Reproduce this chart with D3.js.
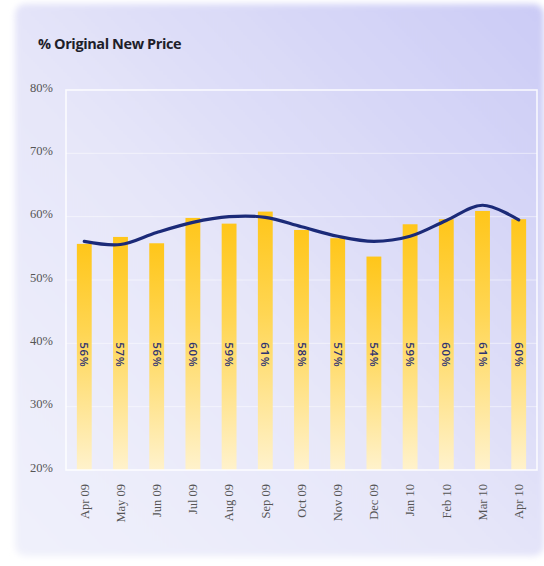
<!DOCTYPE html>
<html><head><meta charset="utf-8">
<script src="https://cdn.jsdelivr.net/npm/d3@7"></script>
<style>html,body{margin:0;padding:0;background:#fff;}svg{display:block;}</style>
</head><body>
<script>
const months = ["Apr 09","May 09","Jun 09","Jul 09","Aug 09","Sep 09","Oct 09","Nov 09","Dec 09","Jan 10","Feb 10","Mar 10","Apr 10"];
const barValues = [55.7,56.8,55.8,59.8,58.9,60.8,57.9,56.6,53.7,58.8,59.6,60.9,59.6];
const barLabels = ["56%","57%","56%","60%","59%","61%","58%","57%","54%","59%","60%","61%","60%"];
const trendValues = [56.1,55.6,57.5,59.1,60.0,59.9,58.4,56.9,56.1,56.9,59.4,61.8,59.5];
const yTicks = [20,30,40,50,60,70,80];

const W=544,H=566;
const svg=d3.select("body").append("svg").attr("width",W).attr("height",H);
const defs=svg.append("defs");
const bg=defs.append("linearGradient").attr("id","bg").attr("x1","0").attr("y1","1").attr("x2","1").attr("y2","0");
bg.append("stop").attr("offset","0").attr("stop-color","#f0f1fb");
bg.append("stop").attr("offset","0.45").attr("stop-color","#e6e6f9");
bg.append("stop").attr("offset","1").attr("stop-color","#cbcbf6");
const bar=defs.append("linearGradient").attr("id","bar").attr("x1","0").attr("y1","0").attr("x2","0").attr("y2","1");
bar.append("stop").attr("offset","0").attr("stop-color","#ffc61a");
bar.append("stop").attr("offset","0.4").attr("stop-color","#ffd654");
bar.append("stop").attr("offset","1").attr("stop-color","#fff2cc");
const blur=defs.append("filter").attr("id","soft").attr("x","-5%").attr("y","-5%").attr("width","110%").attr("height","110%");
blur.append("feGaussianBlur").attr("stdDeviation","3");

svg.append("rect").attr("x",15).attr("y",4).attr("width",W-15).attr("height",552).attr("rx",10)
  .attr("fill","url(#bg)").attr("filter","url(#soft)");

const m={l:66,r:537,t:90,b:470};
const x=d3.scaleBand().domain(months).range([m.l,m.r]).paddingInner(0.59).paddingOuter(0.3);
const y=d3.scaleLinear().domain([20,80]).range([m.b,m.t]);

// gridlines
svg.append("g").selectAll("line").data(yTicks.filter(t=>t>20&&t<80)).join("line")
  .attr("x1",m.l).attr("x2",m.r).attr("y1",d=>y(d)).attr("y2",d=>y(d))
  .attr("stroke","#ffffff").attr("stroke-opacity",0.5).attr("stroke-width",1);

// bars
svg.append("g").selectAll("rect").data(months).join("rect")
  .attr("x",d=>x(d)).attr("width",x.bandwidth())
  .attr("y",(d,i)=>y(barValues[i])).attr("height",(d,i)=>y(20)-y(barValues[i]))
  .attr("fill","url(#bar)");

// plot border
svg.append("rect").attr("x",m.l).attr("y",m.t).attr("width",m.r-m.l).attr("height",m.b-m.t)
  .attr("fill","none").attr("stroke","#ffffff").attr("stroke-width",1.6).attr("stroke-opacity",0.85);

// bar labels
svg.append("g").selectAll("text").data(months).join("text")
  .attr("transform",d=>`translate(${x(d)+x.bandwidth()/2-4},${y(40)-1}) rotate(90)`)
  .attr("font-family","'Open Sans','Noto Sans',sans-serif").attr("font-weight","600")
  .attr("font-size",11.5).attr("fill","#2e3272").attr("text-anchor","start").attr("letter-spacing","0.6")
  .text((d,i)=>barLabels[i]);

// trend line
const line=d3.line().x((d,i)=>x(months[i])+x.bandwidth()/2).y(d=>y(d)).curve(d3.curveCatmullRom.alpha(0.5));
svg.append("path").datum(trendValues).attr("d",line).attr("fill","none")
  .attr("stroke","#1b2a78").attr("stroke-width",3.2).attr("stroke-linecap","round");

// y axis
const ya=svg.append("g").attr("transform",`translate(${m.l-13},0)`)
  .call(d3.axisLeft(y).tickValues(yTicks).tickFormat(d=>d+"%").tickSize(0).tickPadding(0));
ya.select(".domain").remove();
ya.selectAll("text").attr("font-family","'Liberation Serif','DejaVu Serif',serif").attr("font-size",12.5).attr("fill","#555").attr("dy","0.1em");

// x axis
const xa=svg.append("g").attr("transform",`translate(0,${m.b})`)
  .call(d3.axisBottom(x).tickSize(0).tickPadding(0));
xa.select(".domain").remove();
xa.selectAll("text").attr("font-family","'Liberation Serif','DejaVu Serif',serif").attr("font-size",12.5).attr("fill","#555")
  .attr("text-anchor","end").attr("transform","rotate(-90)").attr("x",-14).attr("y",0).attr("dy","0.35em");

// title
svg.append("text").attr("x",38).attr("y",49).attr("font-family","'Open Sans','Noto Sans',sans-serif")
  .attr("font-weight","bold").attr("font-size",14.5).attr("fill","#1e1e2a").attr("letter-spacing","-0.4")
  .text("% Original New Price");
</script>
</body></html>
